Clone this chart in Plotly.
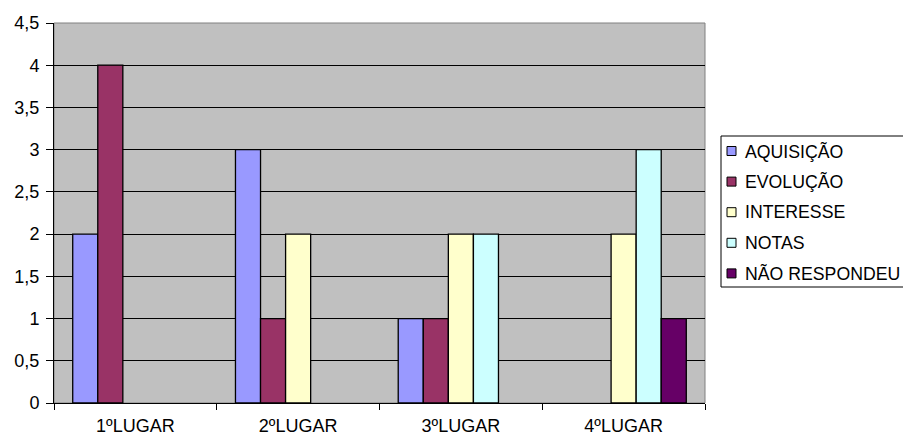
import plotly.graph_objects as go

categories = ["1ºLUGAR", "2ºLUGAR", "3ºLUGAR", "4ºLUGAR"]
aquisicao = [2, 3, 1, 0]
evolucao = [4, 1, 1, 0]
interesse = [0, 2, 2, 2]
notas = [0, 0, 2, 3]
nao_respondeu = [0, 0, 0, 1]

series = [
    ("AQUISIÇÃO", aquisicao, "#9999FF"),
    ("EVOLUÇÃO", evolucao, "#993366"),
    ("INTERESSE", interesse, "#FFFFCC"),
    ("NOTAS", notas, "#CCFFFF"),
    ("NÃO RESPONDEU", nao_respondeu, "#660066"),
]

FONT = "Liberation Sans, Arial, sans-serif"
W, H = 903, 437
ML, MR, MT, MB = 54, 198, 23, 34
PW, PH = W - ML - MR, H - MT - MB


def px_x(x):
    return (x - ML) / PW


def px_y(y):
    return (H - MB - y) / PH


fig = go.Figure()
for name, vals, color in series:
    fig.add_trace(go.Bar(
        x=categories, y=vals, name=name, showlegend=False,
        marker=dict(color=color,
                    line=dict(color="black",
                              width=[1.3 if v else 0 for v in vals])),
    ))

fig.update_layout(
    width=W, height=H,
    margin=dict(l=ML, r=MR, t=MT, b=MB),
    paper_bgcolor="white",
    plot_bgcolor="#C0C0C0",
    separators=", ",
    barmode="group",
    bargap=0.23,
    bargroupgap=0,
    font=dict(family=FONT, size=18, color="black"),
)

fig.update_yaxes(
    range=[0, 4.5], dtick=0.5, tickformat=".1~f",
    showgrid=True, gridcolor="black", gridwidth=1,
    showline=True, linecolor="black", linewidth=1,
    ticks="outside", ticklen=7, tickcolor="black",
    ticklabelstandoff=3, automargin=False,
    zeroline=False,
)
fig.update_xaxes(
    showline=True, linecolor="black", linewidth=1,
    ticks="outside", ticklen=6, tickcolor="black",
    tickson="boundaries", ticklabelstandoff=6, automargin=False,
    showgrid=False,
)

# grey frame around the plot area
fig.add_shape(type="rect", xref="paper", yref="paper", x0=0, x1=1, y0=0, y1=1,
              line=dict(color="#808080", width=1), layer="below")

# legend box with square swatches
fig.add_shape(type="rect", xref="paper", yref="paper",
              x0=px_x(721), x1=px_x(930), y0=px_y(287), y1=px_y(136),
              line=dict(color="black", width=1), fillcolor="white")
for i, (name, vals, color) in enumerate(series):
    cy = 151 + i * 30.6
    fig.add_shape(type="rect", xref="paper", yref="paper",
                  x0=px_x(727), x1=px_x(736), y0=px_y(cy + 4.5), y1=px_y(cy - 4.5),
                  line=dict(color="black", width=1), fillcolor=color)
    fig.add_annotation(x=px_x(743), y=px_y(cy), xref="paper", yref="paper",
                       text=name, showarrow=False, xanchor="left", yanchor="middle",
                       font=dict(family=FONT, size=17.7, color="black"))

fig.write_html("out.html")
